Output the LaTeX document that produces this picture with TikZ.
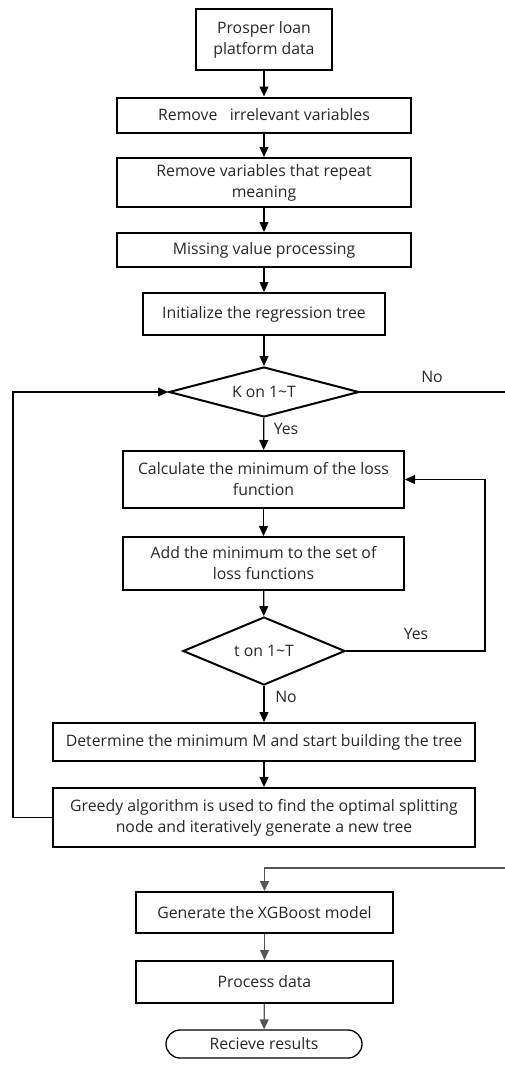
\documentclass[tikz,border=0pt]{standalone}
\usepackage{fontspec}
\setmainfont{Open Sans}
\usepackage{xcolor}
\usetikzlibrary{arrows.meta, positioning, calc, shapes.geometric, shapes.misc}
\definecolor{linegrey}{HTML}{555555}
\definecolor{txt}{HTML}{262626}

\begin{document}
\begin{tikzpicture}[x=1pt, y=-1pt,
  every node/.style={font=\fontsize{15.8}{21}\selectfont, text=txt, align=center, inner sep=1pt},
  stepbox/.style={draw, line width=2pt, minimum width=#1},
  decide/.style={draw, diamond, aspect=4, line width=2pt, inner sep=0pt},
  endbox/.style={draw, rounded rectangle, line width=1.3pt, minimum width=198pt, minimum height=28pt},
  flow/.style={-{Triangle[width=9pt, length=10pt]}, line width=1.2pt},
  greyflow/.style={flow, draw=linegrey, color=linegrey}]
\useasboundingbox (0,0) rectangle (505,1066);
\node[stepbox=136pt, minimum height=61pt] (data) at (264, 39.5) {Prosper loan\\platform data};
\node[stepbox=294pt, minimum height=35pt] (irrel) at (264, 115) {Remove\ \ \ irrelevant variables};
\node[stepbox=294pt, minimum height=49pt] (repeat) at (264, 182.5) {Remove variables that repeat\\meaning};
\node[stepbox=294pt, minimum height=34pt] (missing) at (264, 250) {Missing value processing};
\node[stepbox=242pt, minimum height=42pt] (init) at (264, 314) {Initialize the regression tree};
\node[decide, minimum width=190pt, minimum height=50pt] (kloop) at (264, 392) {K on 1\textasciitilde T};
\node[stepbox=281pt, minimum height=57pt] (lossmin) at (263.5, 479.5) {Calculate the minimum of the loss\\function};
\node[stepbox=281pt, minimum height=53pt] (addmin) at (263.5, 563.5) {Add the minimum to the set of\\loss functions};
\node[decide, minimum width=162pt, minimum height=68pt] (tloop) at (264, 651) {t on 1\textasciitilde T};
\node[stepbox=422pt, minimum height=38pt] (determ) at (264, 742) {Determine the minimum M and start building the tree};
\node[stepbox=422pt, minimum height=59pt] (greedy) at (264, 817.5) {Greedy algorithm is used to find the optimal splitting\\node and iteratively generate a new tree};
\node[stepbox=257pt, minimum height=41pt] (xgb) at (264.5, 912.5) {Generate the XGBoost model};
\node[stepbox=257pt, minimum height=42pt] (proc) at (264.5, 982) {Process data};
\node[endbox] (result) at (264, 1044) {Recieve results};

\node (kno) at (432, 377) {No};
\node (kyes) at (286, 429) {Yes};
\node (tyes) at (416, 634) {Yes};
\node (tno) at (286, 697) {No};

\coordinate (kout) at (505, 392);
\coordinate (back) at (13, 817.5);
\coordinate (tback) at (485, 651);
\coordinate (kin) at (505, 868);

\draw[flow] (data) -- (irrel);
\draw[flow] (irrel) -- (repeat);
\draw[flow] (repeat) -- (missing);
\draw[flow] (missing) -- (init);
\draw[flow] (init) -- (kloop);
\draw[line width=1.2pt] (kloop.east) -- (kout);
\draw[flow] (kloop) -- (lossmin);
\draw[flow] (lossmin) -- (addmin);
\draw[flow] (addmin) -- (tloop);
\draw[flow] (tloop.east) -- (tback) |- (lossmin.east);
\draw[flow] (tloop) -- (determ);
\draw[flow] (determ) -- (greedy);
\draw[flow] (greedy.west) -- (back) |- (kloop.west);
\draw[greyflow] (kin) -| (xgb.north);
\draw[greyflow] (xgb) -- (proc);
\draw[greyflow] (proc) -- (result);
\end{tikzpicture}
\end{document}
